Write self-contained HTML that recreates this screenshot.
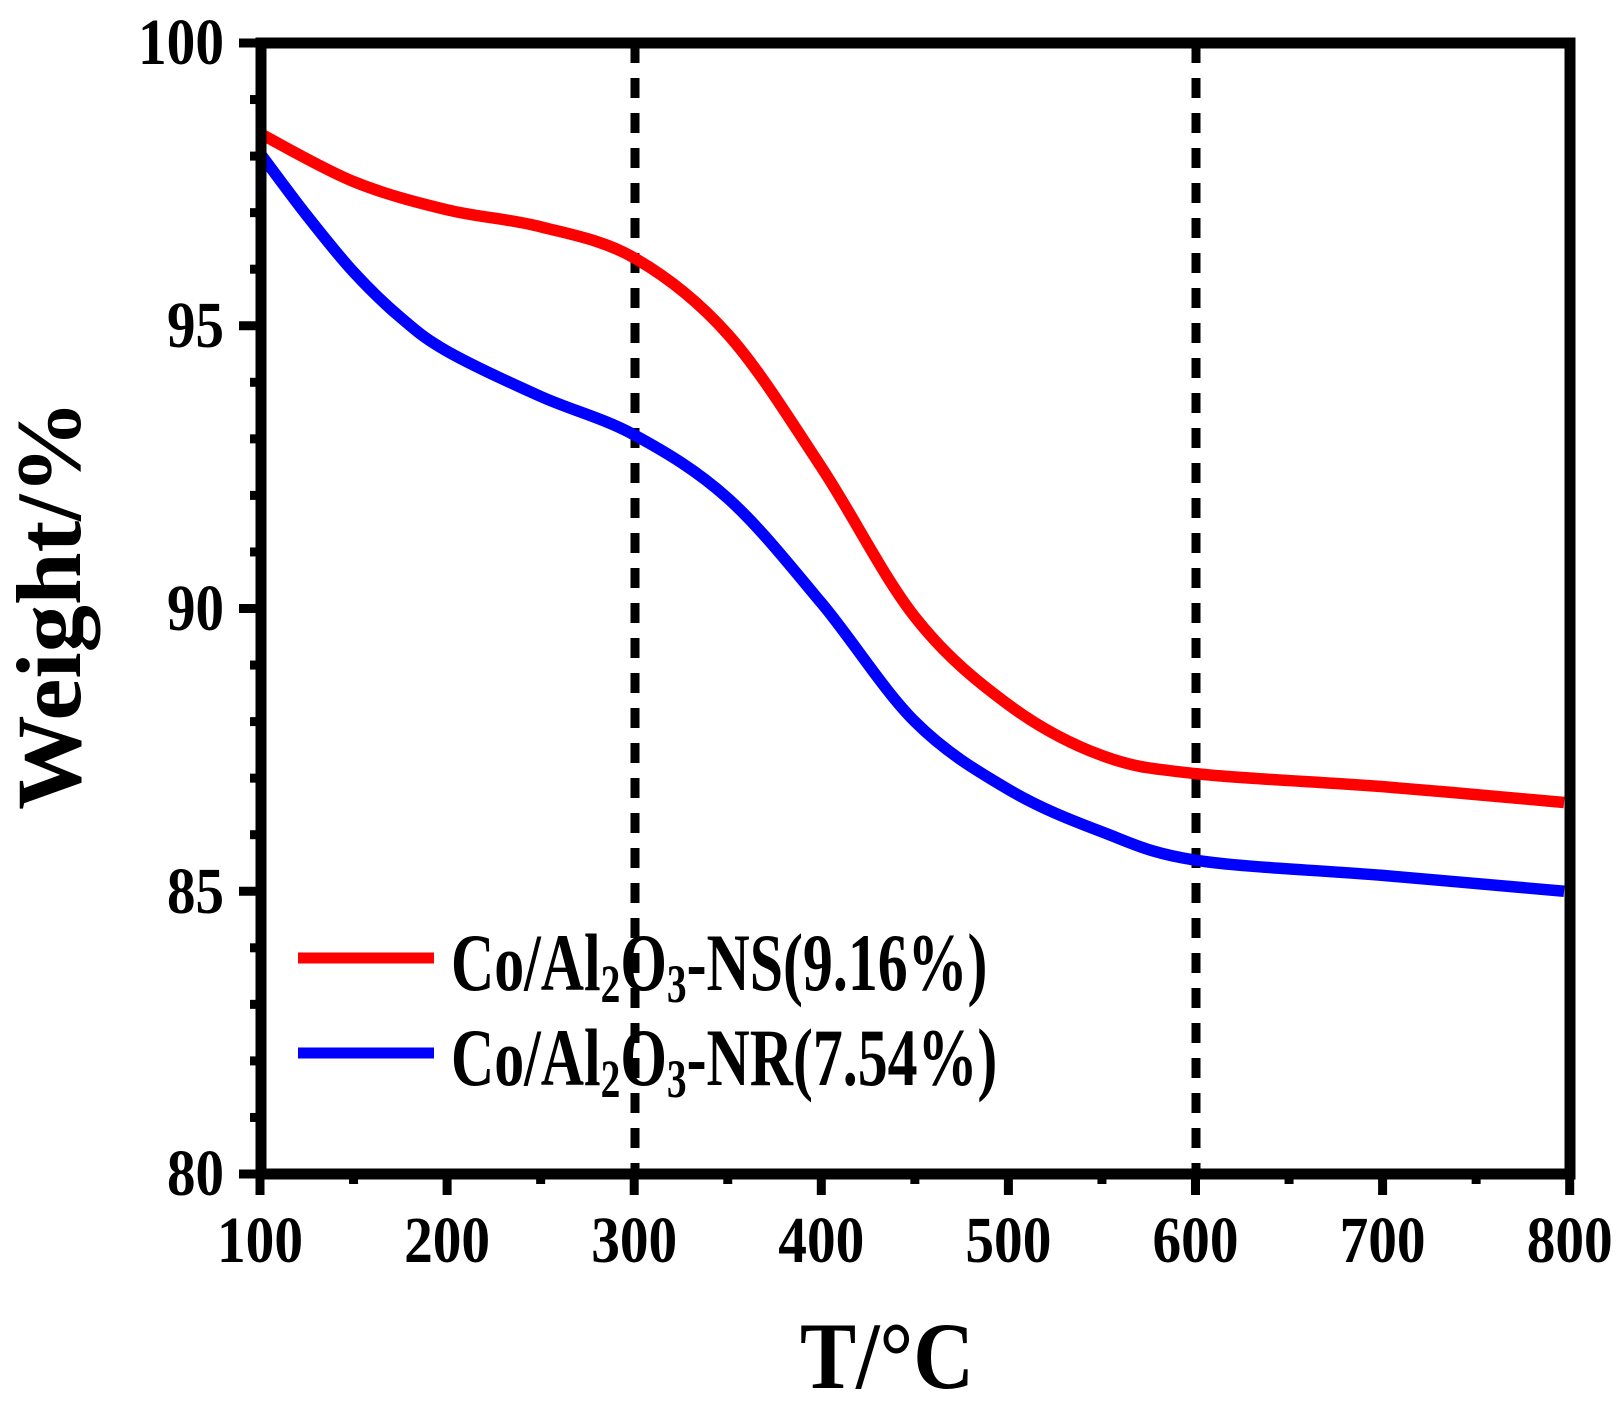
<!DOCTYPE html>
<html><head><meta charset="utf-8"><style>html,body{margin:0;padding:0;background:#fff}svg{display:block}</style></head>
<body>
<svg id="s" width="1621" height="1406" viewBox="0 0 1621 1406" xmlns="http://www.w3.org/2000/svg" font-family="'Liberation Serif',serif" font-weight="bold">
<g id="ticks" stroke="#000" stroke-width="9"></g>
<line x1="635" y1="43" x2="635" y2="1170" stroke="#000" stroke-width="9" stroke-dasharray="20 15"/>
<line x1="1196" y1="43" x2="1196" y2="1170" stroke="#000" stroke-width="9" stroke-dasharray="20 15"/>
<path id="red" fill="none" stroke="#ff0000" stroke-width="11.5"/>
<path id="blue" fill="none" stroke="#0000ff" stroke-width="11.5"/>
<rect x="261" y="43" width="1309" height="1131" fill="none" stroke="#000" stroke-width="11"/>
<g font-size="66" text-anchor="end" id="ylab">
<text x="224" y="64" textLength="86" lengthAdjust="spacingAndGlyphs">100</text>
<text x="224" y="347" textLength="57" lengthAdjust="spacingAndGlyphs">95</text>
<text x="224" y="630" textLength="57" lengthAdjust="spacingAndGlyphs">90</text>
<text x="224" y="913" textLength="57" lengthAdjust="spacingAndGlyphs">85</text>
<text x="224" y="1195" textLength="57" lengthAdjust="spacingAndGlyphs">80</text>
</g>
<g font-size="66" id="xlab"></g>
<text x="887" y="1388" font-size="95" text-anchor="middle" textLength="174" lengthAdjust="spacingAndGlyphs">T/°C</text>
<text transform="translate(80,605) rotate(-90)" font-size="92" text-anchor="middle" textLength="410" lengthAdjust="spacingAndGlyphs">Weight/%</text>
<line x1="298" y1="958" x2="434" y2="958" stroke="#ff0000" stroke-width="11"/>
<line x1="298" y1="1053" x2="434" y2="1053" stroke="#0000ff" stroke-width="11"/>
<text transform="translate(451,990) scale(0.73,1)" font-size="82">Co/Al<tspan font-size="54" dy="12">2</tspan><tspan dy="-12">O</tspan><tspan font-size="54" dy="12">3</tspan><tspan dy="-12">-NS(9.16%)</tspan></text>
<text transform="translate(451,1085) scale(0.73,1)" font-size="82">Co/Al<tspan font-size="54" dy="12">2</tspan><tspan dy="-12">O</tspan><tspan font-size="54" dy="12">3</tspan><tspan dy="-12">-NR(7.54%)</tspan></text>
</svg>
<script>
const X=t=>260+(t-100)*1.871, Y=v=>43+(100-v)*56.55;
const NS="http://www.w3.org/2000/svg";
let tk=document.getElementById('ticks');
function ln(x1,y1,x2,y2){let l=document.createElementNS(NS,'line');l.setAttribute('x1',x1);l.setAttribute('y1',y1);l.setAttribute('x2',x2);l.setAttribute('y2',y2);tk.appendChild(l);}
for(let v=80;v<=100;v++){let y=Y(v);ln(261,y,(v%5==0)?239:250,y);}
for(let t=100;t<=800;t+=50){let x=X(t);ln(x,1174,x,(t%100==0)?1195:1184);}
let xl=document.getElementById('xlab');
for(let t=100;t<=800;t+=100){let e=document.createElementNS(NS,'text');e.setAttribute('x',X(t));e.setAttribute('y',1262);e.setAttribute('text-anchor','middle');e.setAttribute('textLength',86);e.setAttribute('lengthAdjust','spacingAndGlyphs');e.textContent=t;xl.appendChild(e);}
function path(d){let p=d.map(a=>[X(a[0]),Y(a[1])]);let s='M'+p[0][0]+','+p[0][1];
for(let i=0;i<p.length-1;i++){let p0=p[i-1]||p[i],p1=p[i],p2=p[i+1],p3=p[i+2]||p2;
s+=` C${p1[0]+(p2[0]-p0[0])/6},${p1[1]+(p2[1]-p0[1])/6} ${p2[0]-(p3[0]-p1[0])/6},${p2[1]-(p3[1]-p1[1])/6} ${p2[0]},${p2[1]}`;}return s;}
document.getElementById('red').setAttribute('d',path([[100,98.4],[150,97.55],[200,97.05],[250,96.75],[300,96.2],[350,94.85],[400,92.5],[450,89.85],[500,88.3],[550,87.4],[600,87.08],[700,86.85],[797,86.57]]));
document.getElementById('blue').setAttribute('d',path([[100,98.05],[125,96.95],[150,95.95],[175,95.15],[200,94.55],[250,93.75],[300,93.07],[350,91.95],[400,90.1],[450,88.0],[500,86.8],[550,86.05],[600,85.55],[700,85.28],[797,85.0]]));
</script>
</body></html>
